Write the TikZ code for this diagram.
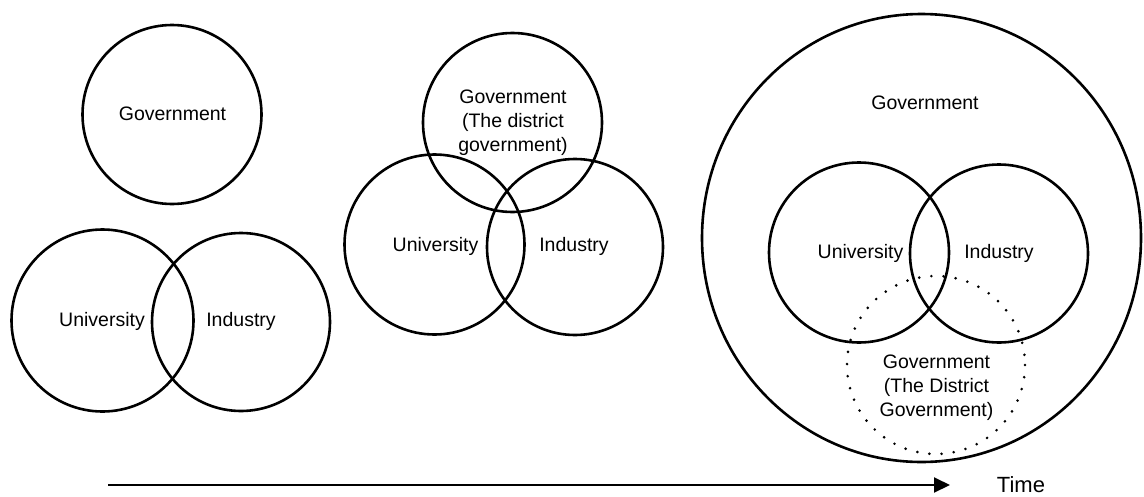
\documentclass[tikz,border=0pt]{standalone}
\usepackage{fontspec}
\setmainfont{Liberation Sans}
\usetikzlibrary{arrows.meta}
\begin{document}
\begin{tikzpicture}[x=1pt,y=-1pt,
  ring/.style={line width=2.6pt},
  dotring/.style={line width=2.9pt,line cap=round,dash pattern=on 0pt off 12.2pt},
  lbl/.style={inner sep=0pt,font=\fontsize{19.5}{24}\selectfont,align=center},
  timelbl/.style={inner sep=0pt,font=\fontsize{22}{26}\selectfont}]
\useasboundingbox (0,0) rectangle (1144,496);
% left group
\draw[ring] (172,114.5) circle (89.5);
\draw[ring] (102.5,320.5) circle (91);
\draw[ring] (241,322) circle (89);
\node[lbl] (g1) at (172.5,114) {Government};
\node[lbl] (u1) at (102,321) {University};
\node[lbl] (i1) at (241,321) {Industry};
% middle group
\draw[ring] (512.5,122.5) circle (89.5);
\draw[ring] (434.5,244.5) circle (90);
\draw[ring] (575,247) circle (88);
\node[lbl] (g2) at (513,123) {Government\\(The district\\government)};
\node[lbl] (u2) at (435.5,246) {University};
\node[lbl] (i2) at (574,246) {Industry};
% right group
\draw[ring] (921.5,238) ellipse [x radius=219.5,y radius=224];
\draw[ring] (859,252.5) circle (90);
\draw[ring] (999,253.5) circle (89);
\draw[dotring] (936,365) circle (89);
\node[lbl] (g3) at (925,103) {Government};
\node[lbl] (u3) at (860.5,253) {University};
\node[lbl] (i3) at (999,253) {Industry};
\node[lbl] (g4) at (936.5,388) {Government\\(The District\\Government)};
% time arrow
\coordinate (ts) at (108,485);
\coordinate (te) at (950,485);
\draw[line width=2pt,-{Triangle[length=16pt,width=15pt]}] (ts) -- (te);
\node[timelbl] (t) at (1021,485) {Time};
\end{tikzpicture}
\end{document}
